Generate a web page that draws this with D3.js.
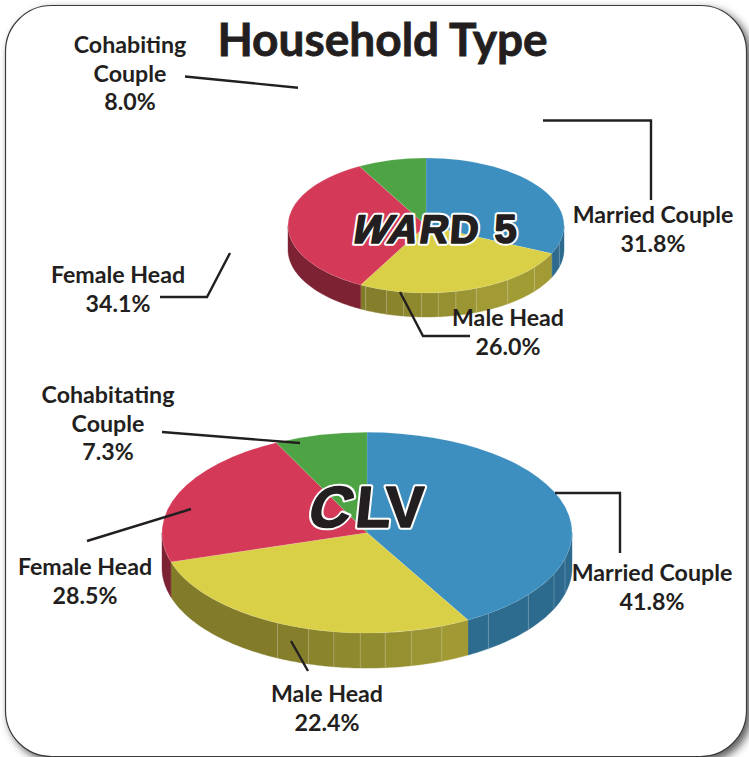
<!DOCTYPE html>
<html><head><meta charset="utf-8">
<script src="https://cdn.jsdelivr.net/npm/d3@7"></script>
<style>html,body{margin:0;background:#fff}svg{display:block}</style></head>
<body><svg id="c" width="749" height="757"></svg>
<script>
const titleText = "Household Type";
const sliceNames = ["Married Couple","Male Head","Female Head","Cohabiting Couple"];
const sliceColors = ["#3c8fbf","#d9d047","#d43a57","#4ea445"];
const ward5Values = [31.8,26.0,34.1,8.0];
const clvValues = [41.8,28.5,22.4,7.3];
const seamAngles = [105,114.2,128.1,143.7,158.6,167.5,174.9,181.9,189.3,196.6,205.9];
const shadeAngles = [90,150,206,270];
const shadeFactors = [.74,.75,.6,.58];

const ward5Labels = [
 {lines:["Cohabiting","Couple","8.0%"],x:130,y:52.8},
 {lines:["Married Couple","31.8%"],x:653,y:222.8},
 {lines:["Female Head","34.1%"],x:118,y:282.8},
 {lines:["Male Head","26.0%"],x:508,y:325.8}];
const clvLabels = [
 {lines:["Cohabitating","Couple","7.3%"],x:108,y:402.8},
 {lines:["Female Head","28.5%"],x:85,y:574.8},
 {lines:["Married Couple","41.8%"],x:652,y:580.8},
 {lines:["Male Head","22.4%"],x:327,y:701.8}];
const leaders = [
 [[185,76.5],[298,87.7]],
 [[543,120.5],[651,120.5],[651,200]],
 [[160,297],[207,297],[230,253]],
 [[400,292],[423,336],[470,336]],
 [[162,432],[300,443]],
 [[87,541],[191,509]],
 [[555,493],[620,493],[620,553]],
 [[291,641],[308,671]]];
const ward5Glyphs = [["W",348,-22],["A",386,-17],["R",418,-9],["D",449,-4],["5",494.5,0]];
const clvGlyphs = [["C",305,-16],["L",354,-6],["V",386,0]];

const svg = d3.select("#c");
const defs = svg.append("defs");
const f = defs.append("filter").attr("id","sh").attr("x","-5%").attr("y","-5%").attr("width","110%").attr("height","110%");
f.append("feDropShadow").attr("dx",4).attr("dy",4).attr("stdDeviation",4).attr("flood-color","#000").attr("flood-opacity",.65);

svg.append("rect").attr("x",5.5).attr("y",5.5).attr("width",741).attr("height",751).attr("rx",46).attr("ry",46)
  .attr("fill","#fff").attr("stroke","#3a3a3a").attr("stroke-width",1.2).attr("filter","url(#sh)");

svg.append("text").text(titleText).attr("x",382.5).attr("y",55.5).attr("text-anchor","middle")
  .attr("font-family","Lato").attr("font-weight",700).attr("font-size",46).attr("fill","#231f20")
  .attr("stroke","#231f20").attr("stroke-width",.8);

const shade = d3.scaleLinear().domain(shadeAngles).range(shadeFactors);
const pieGen = d3.pie().sort(null).value(d=>d);

function drawPie(values,cx,cy,rx,ry,depth){
  const g = svg.append("g");
  const arcs = pieGen(values);
  const pt = a => [cx+rx*Math.sin(a), cy-ry*Math.cos(a)];
  const rad = d=>d*Math.PI/180, deg = r=>r*180/Math.PI;
  const line = d3.line();
  arcs.forEach((s,i)=>{
    const a0 = Math.max(deg(s.startAngle),90), a1 = Math.min(deg(s.endAngle),270);
    if(a1<=a0) return;
    const stops = [a0,...seamAngles.filter(a=>a>a0&&a<a1),a1];
    d3.pairs(stops).forEach(([p,q])=>{
      const n = Math.max(2,Math.ceil(q-p));
      const as = d3.range(n+1).map(k=>rad(p+(q-p)*k/n));
      const upper = as.map(pt);
      const lower = as.slice().reverse().map(a=>{const t=pt(a);return [t[0],t[1]+depth];});
      const c = d3.color(sliceColors[i]);
      const k = shade((p+q)/2);
      const col = d3.rgb(c.r*k,c.g*k,c.b*k);
      g.append("path").attr("d",line(upper.concat(lower))+"Z").attr("fill",col).attr("stroke",col).attr("stroke-width",.4);
    });
    stops.slice(1,-1).forEach(a=>{
      const t = pt(rad(a));
      g.append("line").attr("x1",t[0]).attr("x2",t[0]).attr("y1",t[1]).attr("y2",t[1]+depth)
       .attr("stroke","#fff").attr("stroke-opacity",.28).attr("stroke-width",.8);
    });
  });
  const top = g.append("g").attr("transform",`translate(${cx},${cy}) scale(1,${ry/rx})`);
  const arc = d3.arc().innerRadius(0).outerRadius(rx);
  top.selectAll("path").data(arcs).join("path").attr("d",arc)
    .attr("fill",(d,i)=>sliceColors[i]).attr("stroke","#fff").attr("stroke-opacity",.25).attr("stroke-width",.6);
}
drawPie(ward5Values,426,225.5,138,67.5,24);
drawPie(clvValues,367,532.7,205,100.4,35);

function drawGlyphs(glyphs,base,size){
  const g = svg.append("g").attr("font-family","Liberation Sans").attr("font-weight",700).attr("font-size",size);
  [["#fff",5.6],["#231f20",1.6]].forEach(([col,w])=>{
    glyphs.forEach(([ch,x,sk])=>{
      g.append("text").text(ch).attr("transform",`translate(${x},${base}) skewX(${sk})`)
        .attr("fill","#231f20").attr("stroke",col).attr("stroke-width",w).attr("stroke-linejoin","round");
    });
  });
}
drawGlyphs(ward5Glyphs,243,40);
drawGlyphs(clvGlyphs,527,58);

const lineGen = d3.line();
svg.append("g").selectAll("path").data(leaders).join("path").attr("d",lineGen)
  .attr("fill","none").attr("stroke","#231f20").attr("stroke-width",2.4);

const labels = svg.append("g").attr("font-family","Lato").attr("font-weight",700).attr("font-size",23.2)
  .attr("fill","#231f20").attr("text-anchor","middle");
ward5Labels.concat(clvLabels).forEach(l=>{
  l.lines.forEach((t,i)=>{
    labels.append("text").text(t).attr("x",l.x).attr("y",l.y+i*28.7);
  });
});
</script></body></html>
